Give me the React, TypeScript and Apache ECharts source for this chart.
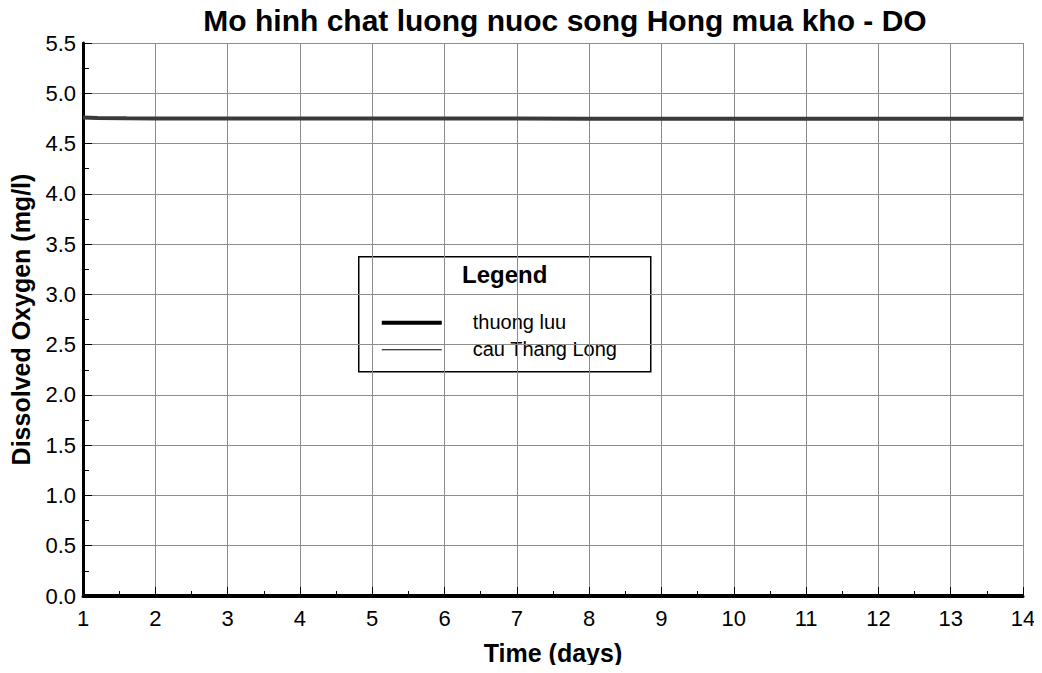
import React, { useEffect, useRef } from "react";
import * as echarts from "echarts";

const TITLE = "Mo hinh chat luong nuoc song Hong mua kho - DO";
const X_NAME = "Time (days)";
const Y_NAME = "Dissolved Oxygen (mg/l)";
const LEGEND_TITLE = "Legend";
const SERIES_NAMES = ["thuong luu", "cau Thang Long"];
const TIME_DAYS = [1, 1.2, 1.6, 2, 3, 4, 5, 6, 7, 8, 9, 10, 11, 12, 13, 14];
const THUONG_LUU = [0, 0, 0, 0, 0, 0, 0, 0, 0, 0, 0, 0, 0, 0, 0, 0];
const CAU_THANG_LONG = [4.76, 4.755, 4.752, 4.75, 4.75, 4.748, 4.748, 4.748, 4.748, 4.746, 4.746, 4.746, 4.746, 4.746, 4.746, 4.746];

const FONT = "Liberation Sans, Arial, Helvetica, sans-serif";

export default function App() {
  const ref = useRef<HTMLDivElement>(null);
  useEffect(() => {
    if (!ref.current) return;
    const chart = echarts.init(ref.current, undefined, { renderer: "svg" });
    const pair = (ys: number[]) => TIME_DAYS.map((x, i) => [x, ys[i]]);
    chart.setOption({
      animation: false,
      textStyle: { fontFamily: FONT },
      title: {
        text: TITLE,
        left: 560,
        textAlign: "center",
        top: 0,
        textStyle: { fontSize: 30, fontWeight: "bold", color: "#000", fontFamily: FONT },
      },
      grid: { left: 80, right: 19, top: 43, bottom: 77 },
      xAxis: {
        type: "value",
        min: 1,
        max: 14,
        interval: 1,
        name: X_NAME,
        nameLocation: "middle",
        nameGap: 44,
        nameTextStyle: { fontSize: 25, fontWeight: "bold", color: "#000", fontFamily: FONT },
        axisLine: { show: true, lineStyle: { color: "#000", width: 3 } },
        axisTick: { show: true, inside: true, length: 9, lineStyle: { color: "#000", width: 1 } },
        minorTick: { show: true, splitNumber: 2, length: 5, lineStyle: { color: "#000", width: 1 } },
        axisLabel: { fontSize: 22, color: "#000", margin: 11, fontFamily: FONT },
        splitLine: { show: true, lineStyle: { color: "#8c8c8c", width: 1 } },
      },
      yAxis: {
        type: "value",
        min: 0,
        max: 5.5,
        interval: 0.5,
        name: Y_NAME,
        nameLocation: "middle",
        nameGap: 50,
        nameTextStyle: { fontSize: 25, fontWeight: "bold", color: "#000", fontFamily: FONT },
        axisLine: { show: true, lineStyle: { color: "#000", width: 3 } },
        axisTick: { show: true, inside: true, length: 9, lineStyle: { color: "#000", width: 1 } },
        minorTick: { show: true, splitNumber: 2, length: 6, lineStyle: { color: "#000", width: 1 } },
        axisLabel: {
          fontSize: 22,
          color: "#000",
          margin: 7,
          fontFamily: FONT,
          formatter: (v: number) => v.toFixed(1),
        },
        splitLine: { show: true, lineStyle: { color: "#8c8c8c", width: 1 } },
      },
      series: [
        {
          name: SERIES_NAMES[0],
          type: "line",
          data: pair(THUONG_LUU),
          showSymbol: false,
          lineStyle: { color: "#000", width: 4 },
          z: 5,
        },
        {
          name: SERIES_NAMES[1],
          type: "line",
          data: pair(CAU_THANG_LONG),
          showSymbol: false,
          lineStyle: { color: "#3a3a3a", width: 4 },
          z: 5,
        },
      ],
      graphic: [
        {
          type: "group",
          left: 358,
          top: 256,
          z: 100,
          children: [
            {
              type: "rect",
              shape: { x: 0, y: 0, width: 292, height: 115 },
              style: { fill: "#fff", stroke: "#000", lineWidth: 1.5 },
            },
            {
              type: "text",
              x: 146,
              y: 18,
              style: {
                text: LEGEND_TITLE,
                fill: "#000",
                font: `bold 24px ${FONT}`,
                textAlign: "center",
                textVerticalAlign: "middle",
              },
            },
            {
              type: "line",
              shape: { x1: 23, y1: 66, x2: 83, y2: 66 },
              style: { stroke: "#000", lineWidth: 4 },
            },
            {
              type: "text",
              x: 114,
              y: 65,
              style: {
                text: SERIES_NAMES[0],
                fill: "#000",
                font: `20px ${FONT}`,
                textVerticalAlign: "middle",
              },
            },
            {
              type: "line",
              shape: { x1: 23, y1: 93, x2: 83, y2: 93 },
              style: { stroke: "#000", lineWidth: 1 },
            },
            {
              type: "text",
              x: 114,
              y: 92,
              style: {
                text: SERIES_NAMES[1],
                fill: "#000",
                font: `20px ${FONT}`,
                textVerticalAlign: "middle",
              },
            },
          ],
        },
      ],
    });
    return () => chart.dispose();
  }, []);
  return <div ref={ref} style={{ width: 1042, height: 673, margin: -8 }} />;
}
